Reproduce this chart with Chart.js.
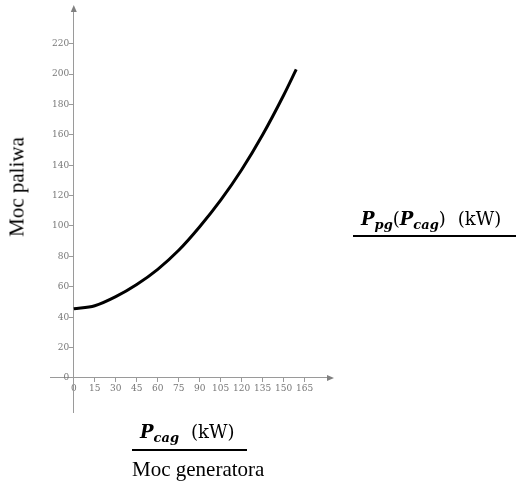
<!DOCTYPE html>
<html lang="pl">
<head>
    <meta charset="UTF-8">
    <title>Moc paliwa vs moc generatora</title>
    <script src="https://cdn.jsdelivr.net/npm/chart.js"></script>
    <style>
        body { margin: 0; background: #fff; }
        .wrap { position: relative; width: 516px; height: 481px; }
        .lbl { position: absolute; font-family: "Liberation Serif", serif; color: #000; white-space: nowrap; }
        .math { position: absolute; font-family: "DejaVu Serif", serif; font-size: 18px; white-space: nowrap; }
        .math i { font-weight: bold; }
        .math sub { font-size: 13px; font-style: italic; font-weight: bold; vertical-align: -4px; }
        .math .u { margin-left: 12px; }
        .bar { position: absolute; height: 2px; background: #000; }
    </style>
</head>
<body>
    <div class="wrap">
        <canvas id="chart" width="516" height="481"></canvas>

        <!-- axis titles -->
        <div class="lbl" style="left:17px; top:187px; font-size:21px; transform: translate(-50%,-50%) rotate(-90deg);">Moc paliwa</div>
        <div class="math" style="left:140px; top:421px;"><i>P</i><sub>cag</sub><span class="u">(kW)</span></div>
        <div class="bar" style="left:132px; top:449px; width:115px;"></div>
        <div class="lbl" style="left:132px; top:457px; font-size:21px;">Moc generatora</div>

        <div class="math" style="left:361px; top:208px;"><i>P</i><sub>pg</sub>(<i>P</i><sub>cag</sub>)<span class="u">(kW)</span></div>
        <div class="bar" style="left:353px; top:235px; width:163px;"></div>
    </div>

    <script>
        // values
        const pcag = [0, 15, 30, 45, 60, 75, 90, 105, 120, 135, 150, 159];
        const ppg = [45.5, 47.5, 53.5, 61.5, 71.5, 84, 99.5, 117, 137, 160, 186, 203];
        const xTicks = [0, 15, 30, 45, 60, 75, 90, 105, 120, 135, 150, 165];
        const yTicks = [0, 20, 40, 60, 80, 100, 120, 140, 160, 180, 200, 220];

        const axisGray = '#9a9a9a';
        const tickFont = { family: 'DejaVu Serif', size: 9 };

        // small arrow heads at the ends of both axes
        const arrows = {
            id: 'arrows',
            afterDraw(chart) {
                const ctx = chart.ctx;
                const x = chart.scales.x, y = chart.scales.y;
                const x0 = x.getPixelForValue(0), y0 = y.getPixelForValue(0);
                ctx.save();
                ctx.fillStyle = '#808080';
                ctx.beginPath();
                ctx.moveTo(x.right + 7, y0);
                ctx.lineTo(x.right, y0 - 3);
                ctx.lineTo(x.right, y0 + 3);
                ctx.fill();
                ctx.beginPath();
                ctx.moveTo(x0, y.top - 7);
                ctx.lineTo(x0 - 3, y.top);
                ctx.lineTo(x0 + 3, y.top);
                ctx.fill();
                ctx.restore();
            }
        };

        new Chart(document.getElementById('chart'), {
            type: 'line',
            data: {
                datasets: [{
                    data: pcag.map((v, i) => ({ x: v, y: ppg[i] })),
                    borderColor: '#000',
                    borderWidth: 3,
                    pointRadius: 0,
                    cubicInterpolationMode: 'monotone',
                    fill: false
                }]
            },
            options: {
                responsive: false,
                animation: false,
                layout: { padding: { left: 50, top: 12, right: 189, bottom: 69 } },
                plugins: { legend: { display: false }, tooltip: { enabled: false } },
                scales: {
                    x: {
                        type: 'linear',
                        min: -17,
                        max: 181,
                        position: { y: 0 },
                        afterBuildTicks: s => { s.ticks = xTicks.map(v => ({ value: v })); },
                        ticks: { color: '#777', font: tickFont, padding: 1, maxRotation: 0, autoSkip: false },
                        grid: { drawOnChartArea: false, drawTicks: true, tickLength: 4, color: axisGray },
                        border: { display: true, color: axisGray, width: 1 }
                    },
                    y: {
                        min: -22.4,
                        max: 240.8,
                        position: { x: 0 },
                        afterBuildTicks: s => { s.ticks = yTicks.map(v => ({ value: v })); },
                        // labels sit right against the axis here, so keep a small gap
                        ticks: { color: '#777', font: tickFont, autoSkip: false, callback: v => v + '\u2002' },
                        grid: { drawOnChartArea: false, drawTicks: true, tickLength: 4, color: axisGray },
                        border: { display: true, color: axisGray, width: 1 }
                    }
                }
            },
            plugins: [arrows]
        });
    </script>
</body>
</html>
